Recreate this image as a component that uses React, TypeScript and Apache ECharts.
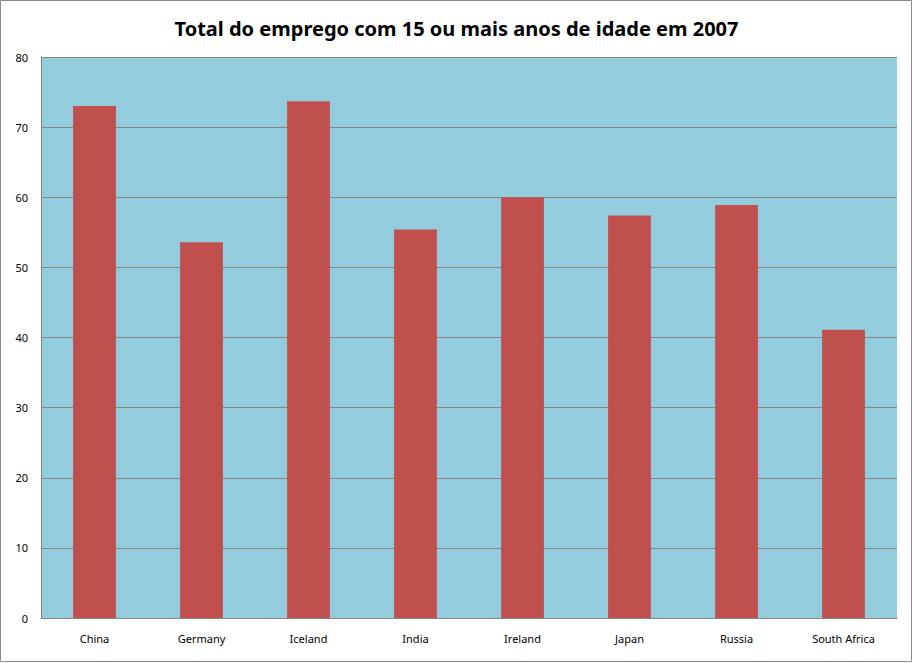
import { useEffect, useRef } from 'react';
import * as echarts from 'echarts';

const countries = ['China', 'Germany', 'Iceland', 'India', 'Ireland', 'Japan', 'Russia', 'South Africa'];
const employment = [73.0, 53.6, 73.7, 55.4, 60.0, 57.4, 58.9, 41.1];

export default function App() {
  const chartRef = useRef<HTMLDivElement>(null);

  useEffect(() => {
    if (!chartRef.current) return;
    document.body.style.margin = '0';
    const chart = echarts.init(chartRef.current, null, { renderer: 'svg' });

    chart.setOption({
      animation: false,
      title: {
        text: 'Total do emprego com 15 ou mais anos de idade em 2007',
        left: 'center',
        top: 13,
        textStyle: {
          fontFamily: 'Noto Sans',
          fontSize: 20,
          fontWeight: 'bold',
          color: '#000',
        },
      },
      graphic: [
        {
          type: 'rect',
          shape: { x: 0.5, y: 0.5, width: 911, height: 661 },
          style: { fill: 'none', stroke: '#8a8a8a', lineWidth: 1 },
          silent: true,
        },
      ],
      grid: {
        left: 41,
        right: 16,
        top: 57,
        bottom: 45,
        show: true,
        backgroundColor: '#93cddd',
        borderWidth: 0,
      },
      xAxis: {
        type: 'category',
        data: countries,
        axisLine: { lineStyle: { color: '#868686' } },
        axisTick: { show: false },
        axisLabel: {
          margin: 15,
          fontFamily: 'Noto Sans',
          fontSize: 11,
          color: '#000',
        },
      },
      yAxis: {
        type: 'value',
        min: 0,
        max: 80,
        interval: 10,
        axisLine: { show: true, lineStyle: { color: '#868686' } },
        axisTick: { show: false },
        axisLabel: {
          margin: 13,
          fontFamily: 'Noto Sans',
          fontSize: 11,
          color: '#000',
        },
        splitLine: { lineStyle: { color: '#868686', width: 1 } },
      },
      series: [
        {
          type: 'bar',
          data: employment,
          barWidth: '40%',
          itemStyle: { color: '#c0504d' },
        },
      ],
    });

    return () => {
      chart.dispose();
    };
  }, []);

  return <div ref={chartRef} style={{ width: 913, height: 663, background: '#fff' }} />;
}
